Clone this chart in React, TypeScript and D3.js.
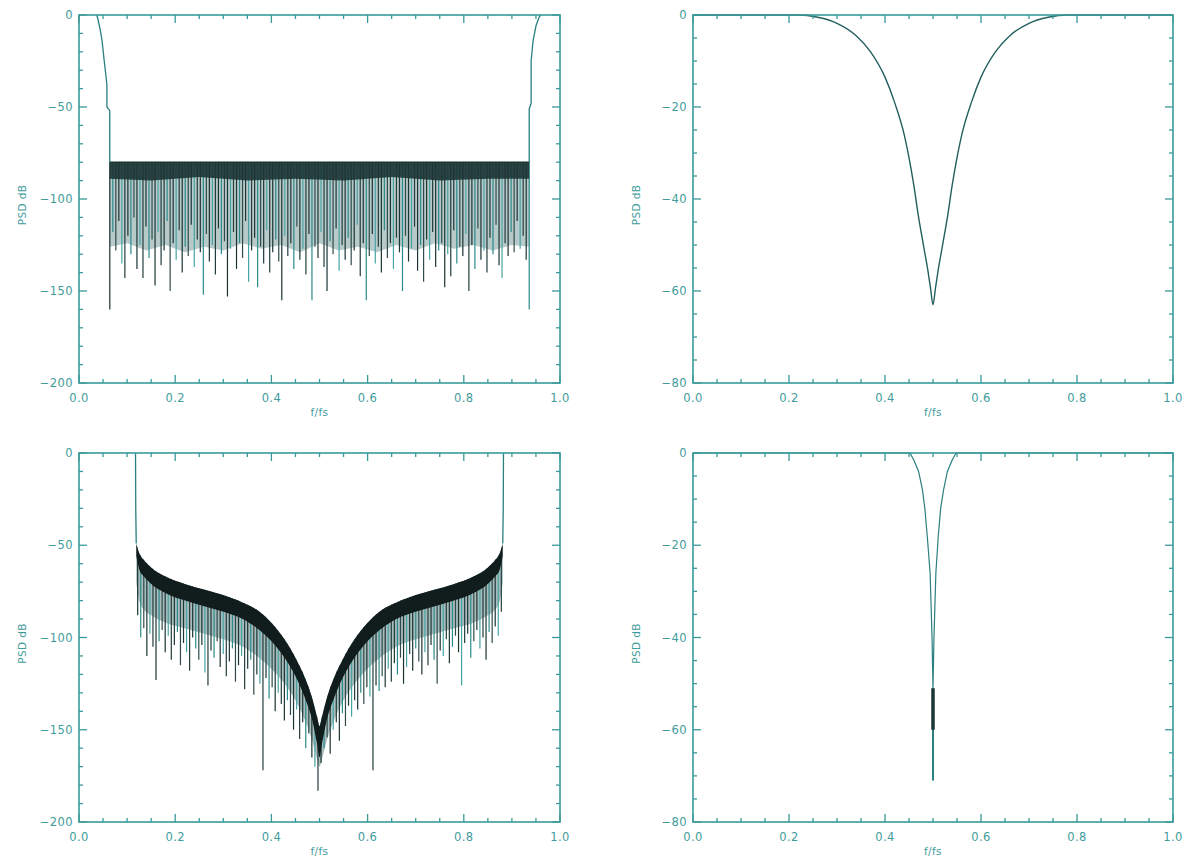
import React from "react";
import * as d3 from "d3";

// ---------- axis definitions ----------
const xMajor = [0, 0.2, 0.4, 0.6, 0.8, 1.0];
const xMajorLabels = ["0.0", "0.2", "0.4", "0.6", "0.8", "1.0"];
const yMajorWide = [0, -50, -100, -150, -200];
const yLabelsWide = ["0", "−50", "−100", "−150", "−200"];
const yMajorNarrow = [0, -20, -40, -60, -80];
const yLabelsNarrow = ["0", "−20", "−40", "−60", "−80"];
const xLabel = "f/fs";
const yLabel = "PSD dB";

// ---------- panel 1 (top-left) ----------
const p1LeftLobe: [number, number][] = [
  [0.037, 0], [0.040, -3], [0.044, -8], [0.048, -14], [0.052, -24],
  [0.056, -33], [0.058, -38], [0.058, -50], [0.064, -52], [0.064, -80],
];
const p1RightLobe: [number, number][] = [
  [0.936, -80], [0.936, -51], [0.940, -48], [0.940, -25], [0.944, -14],
  [0.950, -6], [0.954, -3], [0.957, -1], [0.960, 0],
];
const p1Floor = -80;
const p1Range = [0.064, 0.936];
const p1Nulls = [
  -160, -118, -128, -112, -135, -143, -120, -130, -110, -138,
  -125, -143, -115, -132, -122, -147, -118, -136, -128, -112,
  -150, -124, -133, -117, -140, -126, -131, -114, -137, -122,
  -129, -152, -119, -134, -125, -141, -116, -130, -123, -153,
  -127, -118, -138, -124, -132, -112, -145, -128, -121, -148,
  -126, -135, -117, -140, -129, -122, -134, -155, -120, -131,
  -124, -138, -115, -133, -127, -141, -119, -155, -126, -132,
  -118, -137, -150, -123, -130, -116, -139, -125, -133, -121,
  -136, -128, -114, -142, -124, -155, -131, -119, -135, -126,
  -140, -117, -132, -124, -138, -121, -129, -150, -120, -134,
  -127, -115, -139, -125, -145, -122, -133, -118, -137, -128,
  -124, -148, -130, -142, -117, -135, -126, -131, -119, -150,
  -125, -138, -116, -133, -128, -140, -121, -130, -114, -136,
  -143, -124, -131, -118, -129, -112, -127, -120, -133, -160,
];
const p1Band: [number, number][] = [
  [0.064, -89], [0.15, -90], [0.25, -88], [0.35, -90], [0.45, -89],
  [0.55, -90], [0.65, -88], [0.75, -90], [0.85, -89], [0.936, -89],
];
const p1Body: [number, number][] = [
  [0.064, -126], [0.10, -124], [0.14, -128], [0.18, -125], [0.22, -129],
  [0.26, -126], [0.30, -128], [0.34, -124], [0.38, -127], [0.42, -125],
  [0.46, -129], [0.50, -124], [0.54, -128], [0.58, -126], [0.62, -129],
  [0.66, -125], [0.70, -128], [0.74, -124], [0.78, -127], [0.82, -125],
  [0.86, -128], [0.90, -125], [0.936, -126],
];

// ---------- panel 2 (top-right) ----------
const p2Curve: [number, number][] = [
  [0.0, 0], [0.22, 0], [0.26, -0.5], [0.30, -1.8], [0.34, -4.5], [0.37, -8],
  [0.40, -13.5], [0.42, -19], [0.44, -26], [0.45, -31], [0.46, -37],
  [0.47, -44], [0.48, -50], [0.49, -56], [0.495, -59.5], [0.5, -63],
  [0.505, -59.5], [0.51, -56], [0.52, -50], [0.53, -44], [0.54, -37],
  [0.55, -31], [0.56, -26], [0.58, -19], [0.60, -13.5], [0.63, -8],
  [0.66, -4.5], [0.70, -1.8], [0.74, -0.5], [0.78, 0], [1.0, 0],
];

// ---------- panel 3 (bottom-left) ----------
const p3LeftEdge: [number, number][] = [[0.1175, 0], [0.118, -30], [0.119, -49]];
const p3RightEdge: [number, number][] = [[0.881, -49], [0.882, -30], [0.8825, 0]];
// [f, upper edge dB, lower edge of dark band dB, lower edge of grey texture dB]
const p3Band: [number, number, number, number][] = [
  [0.119, -49, -56, -70], [0.125, -54, -63, -80], [0.135, -58, -67, -85], [0.15, -62, -71, -88],
  [0.18, -67, -76, -92], [0.22, -71, -80, -95], [0.26, -74, -83, -98], [0.30, -77, -86, -101],
  [0.34, -81, -90, -105], [0.37, -85, -95, -110], [0.40, -92, -102, -117], [0.43, -102, -112, -126],
  [0.45, -111, -121, -134], [0.47, -122, -133, -145], [0.485, -133, -145, -156], [0.495, -143, -158, -166],
  [0.5, -148, -165, -170], [0.505, -143, -158, -166], [0.515, -133, -145, -156], [0.53, -122, -133, -145],
  [0.55, -111, -121, -134], [0.57, -102, -112, -126], [0.60, -92, -102, -117], [0.63, -85, -95, -110],
  [0.66, -81, -90, -105], [0.70, -77, -86, -101], [0.74, -74, -83, -98], [0.78, -71, -80, -95],
  [0.82, -67, -76, -92], [0.85, -62, -71, -88], [0.865, -58, -67, -85], [0.875, -54, -63, -80],
  [0.881, -49, -56, -70],
];
const p3Range = [0.122, 0.878];
const p3Nulls = [
  -88, -100, -95, -110, -98, -105, -123, -102, -96, -108,
  -99, -112, -104, -97, -115, -103, -108, -118, -100, -106,
  -112, -104, -119, -126, -107, -111, -102, -116, -109, -121,
  -113, -106, -124, -115, -110, -128, -117, -112, -131, -120,
  -125, -172, -122, -133, -127, -140, -130, -136, -145, -134,
  -142, -150, -139, -155, -146, -160, -152, -165, -170, -183,
  -168, -160, -154, -163, -150, -146, -156, -141, -148, -137,
  -143, -134, -139, -130, -136, -127, -132, -172, -126, -129,
  -121, -127, -117, -124, -114, -120, -111, -125, -116, -109,
  -118, -106, -113, -120, -108, -115, -104, -112, -125, -107,
  -110, -101, -114, -105, -99, -108, -126, -103, -98, -111,
  -102, -96, -106, -100, -112, -97, -103, -94, -99, -86,
];

// ---------- panel 4 (bottom-right) ----------
const p4Curve: [number, number][] = [
  [0.0, 0], [0.452, 0], [0.46, -1.5], [0.47, -4], [0.478, -8], [0.483, -12],
  [0.488, -18], [0.494, -26], [0.498, -40], [0.5, -51], [0.502, -40],
  [0.506, -26], [0.511, -18], [0.516, -12], [0.522, -8], [0.53, -4],
  [0.54, -1.5], [0.548, 0], [1.0, 0],
];
const p4StemF = 0.5;
const p4Stem = [-51, -60, -71];

// ---------- layout / style ----------
const W = 1195;
const H = 858;
const AX = "#3a9a9a";
const TXT = "#3f9c9c";
const DARK = "#1c3434";
const FONT = "'DejaVu Sans', Verdana, sans-serif";

type Box = { x: number; y: number; w: number; h: number };
const boxes: Box[] = [
  { x: 79, y: 15, w: 481, h: 368 },
  { x: 693, y: 15, w: 480, h: 368 },
  { x: 79, y: 453, w: 481, h: 369 },
  { x: 693, y: 453, w: 480, h: 369 },
];

function Frame({ b, yMin, yMajor, yLabels, yMinorStep }: {
  b: Box; yMin: number; yMajor: number[]; yLabels: string[]; yMinorStep: number;
}) {
  const x = d3.scaleLinear().domain([0, 1]).range([b.x, b.x + b.w]);
  const y = d3.scaleLinear().domain([yMin, 0]).range([b.y + b.h, b.y]);
  const xMinor = d3.range(0, 1.0001, 0.05);
  const yMinor = d3.range(yMin, 0.0001, yMinorStep);
  const major = 8, minor = 4;
  const els: React.ReactNode[] = [];
  xMinor.forEach((v, i) => {
    const isMaj = xMajor.some((m) => Math.abs(m - v) < 1e-6);
    const L = isMaj ? major : minor;
    const px = x(v);
    els.push(<line key={"xb" + i} x1={px} x2={px} y1={b.y + b.h} y2={b.y + b.h - L} />);
    els.push(<line key={"xt" + i} x1={px} x2={px} y1={b.y} y2={b.y + L} />);
  });
  yMinor.forEach((v, i) => {
    const isMaj = yMajor.some((m) => Math.abs(m - v) < 1e-6);
    const L = isMaj ? major : minor;
    const py = y(v);
    els.push(<line key={"yl" + i} x1={b.x} x2={b.x + L} y1={py} y2={py} />);
    els.push(<line key={"yr" + i} x1={b.x + b.w} x2={b.x + b.w - L} y1={py} y2={py} />);
  });
  return (
    <g>
      <g stroke={AX} strokeWidth={1.3}>
        {els}
        <rect x={b.x} y={b.y} width={b.w} height={b.h} fill="none" strokeWidth={1.6} />
      </g>
      <g fill={TXT} fontFamily={FONT} fontSize={11.5} letterSpacing={0.4}>
        {xMajor.map((v, i) => (
          <text key={"xl" + i} x={x(v)} y={b.y + b.h + 19} textAnchor="middle">{xMajorLabels[i]}</text>
        ))}
        {yMajor.map((v, i) => (
          <text key={"ylb" + i} x={b.x - 6} y={y(v)} textAnchor="end" dominantBaseline="central">{yLabels[i]}</text>
        ))}
        <text x={b.x + b.w / 2} y={b.y + b.h + 33} textAnchor="middle" fontSize={10.5}>{xLabel}</text>
        <text transform={`translate(${b.x - 57},${b.y + b.h / 2 + 6}) rotate(-90)`} textAnchor="middle" fontSize={10.5} dominantBaseline="central">{yLabel}</text>
      </g>
    </g>
  );
}

function scales(b: Box, yMin: number) {
  const x = d3.scaleLinear().domain([0, 1]).range([b.x, b.x + b.w]);
  const y = d3.scaleLinear().domain([yMin, 0]).range([b.y + b.h, b.y]);
  return { x, y };
}

const teethColors = [DARK, "#2d8a8a", "#2f4a4a", DARK, "#48a4a4", "#233c3c"];

function Panel1() {
  const b = boxes[0];
  const { x, y } = scales(b, -200);
  const line = d3.line<[number, number]>().x((d) => x(d[0])).y((d) => y(d[1]));
  const fIdx = d3.scaleLinear().domain([0, p1Nulls.length - 1]).range(p1Range);
  const area = d3.area<[number, number]>().x((d) => x(d[0])).y0(y(p1Floor)).y1((d) => y(d[1]));
  return (
    <g>
      <path d={area(p1Body) || ""} fill="#6f9494" opacity={0.5} />
      <g strokeWidth={1.2}>
        {p1Nulls.map((v, i) => (
          <line key={i} x1={x(fIdx(i))} x2={x(fIdx(i))} y1={y(p1Floor)} y2={y(v)} stroke={teethColors[i % teethColors.length]} />
        ))}
      </g>
      <path d={area(p1Band) || ""} fill={DARK} opacity={0.9} />
      <line x1={x(p1Range[0])} x2={x(p1Range[1])} y1={y(p1Floor)} y2={y(p1Floor)} stroke={DARK} strokeWidth={1.5} />
      <path d={line(p1LeftLobe) || ""} fill="none" stroke="#2b7f7f" strokeWidth={1.3} />
      <path d={line(p1RightLobe) || ""} fill="none" stroke="#2b7f7f" strokeWidth={1.3} />
    </g>
  );
}

function Panel2() {
  const b = boxes[1];
  const { x, y } = scales(b, -80);
  const line = d3.line<[number, number]>().x((d) => x(d[0])).y((d) => y(d[1])).curve(d3.curveMonotoneX);
  return <path d={line(p2Curve) || ""} fill="none" stroke="#245f5f" strokeWidth={1.4} />;
}

function Panel3() {
  const b = boxes[2];
  const { x, y } = scales(b, -200);
  const line = d3.line<[number, number]>().x((d) => x(d[0])).y((d) => y(d[1]));
  const fIdx = d3.scaleLinear().domain([0, p3Nulls.length - 1]).range(p3Range);
  type B = [number, number, number, number];
  const clipArea = d3.area<B>().x((d) => x(d[0])).y0(y(-200)).y1((d) => y(d[1])).curve(d3.curveMonotoneX);
  const band = d3.area<B>().x((d) => x(d[0])).y0((d) => y(d[2])).y1((d) => y(d[1])).curve(d3.curveMonotoneX);
  const tex = d3.area<B>().x((d) => x(d[0])).y0((d) => y(d[3])).y1((d) => y(d[2])).curve(d3.curveMonotoneX);
  return (
    <g>
      <defs>
        <clipPath id="p3clip">
          <path d={clipArea(p3Band) || ""} />
        </clipPath>
      </defs>
      <path d={tex(p3Band) || ""} fill="#5f8383" opacity={0.55} />
      <g clipPath="url(#p3clip)" strokeWidth={1.2}>
        {p3Nulls.map((v, i) => (
          <line key={i} x1={x(fIdx(i))} x2={x(fIdx(i))} y1={y(-40)} y2={y(v)} stroke={teethColors[i % teethColors.length]} />
        ))}
      </g>
      <path d={band(p3Band) || ""} fill="#111c1c" />
      <path d={line(p3LeftEdge) || ""} fill="none" stroke="#2b7f7f" strokeWidth={1.3} />
      <path d={line(p3RightEdge) || ""} fill="none" stroke="#2b7f7f" strokeWidth={1.3} />
    </g>
  );
}

function Panel4() {
  const b = boxes[3];
  const { x, y } = scales(b, -80);
  const line = d3.line<[number, number]>().x((d) => x(d[0])).y((d) => y(d[1]));
  return (
    <g>
      <path d={line(p4Curve) || ""} fill="none" stroke="#2b7f7f" strokeWidth={1.2} />
      <line x1={x(p4StemF)} x2={x(p4StemF)} y1={y(p4Stem[0])} y2={y(p4Stem[2])} stroke="#2b7f7f" strokeWidth={2} />
      <line x1={x(p4StemF)} x2={x(p4StemF)} y1={y(p4Stem[0])} y2={y(p4Stem[1])} stroke={DARK} strokeWidth={3.5} />
    </g>
  );
}

export default function App() {
  return (
    <svg width={W} height={H} style={{ position: "absolute", left: 0, top: 0, background: "#fff" }}>
      <rect x={0} y={0} width={W} height={H} fill="#fff" />
      <Panel1 />
      <Panel2 />
      <Panel3 />
      <Panel4 />
      <Frame b={boxes[0]} yMin={-200} yMajor={yMajorWide} yLabels={yLabelsWide} yMinorStep={10} />
      <Frame b={boxes[1]} yMin={-80} yMajor={yMajorNarrow} yLabels={yLabelsNarrow} yMinorStep={5} />
      <Frame b={boxes[2]} yMin={-200} yMajor={yMajorWide} yLabels={yLabelsWide} yMinorStep={10} />
      <Frame b={boxes[3]} yMin={-80} yMajor={yMajorNarrow} yLabels={yLabelsNarrow} yMinorStep={5} />
    </svg>
  );
}
